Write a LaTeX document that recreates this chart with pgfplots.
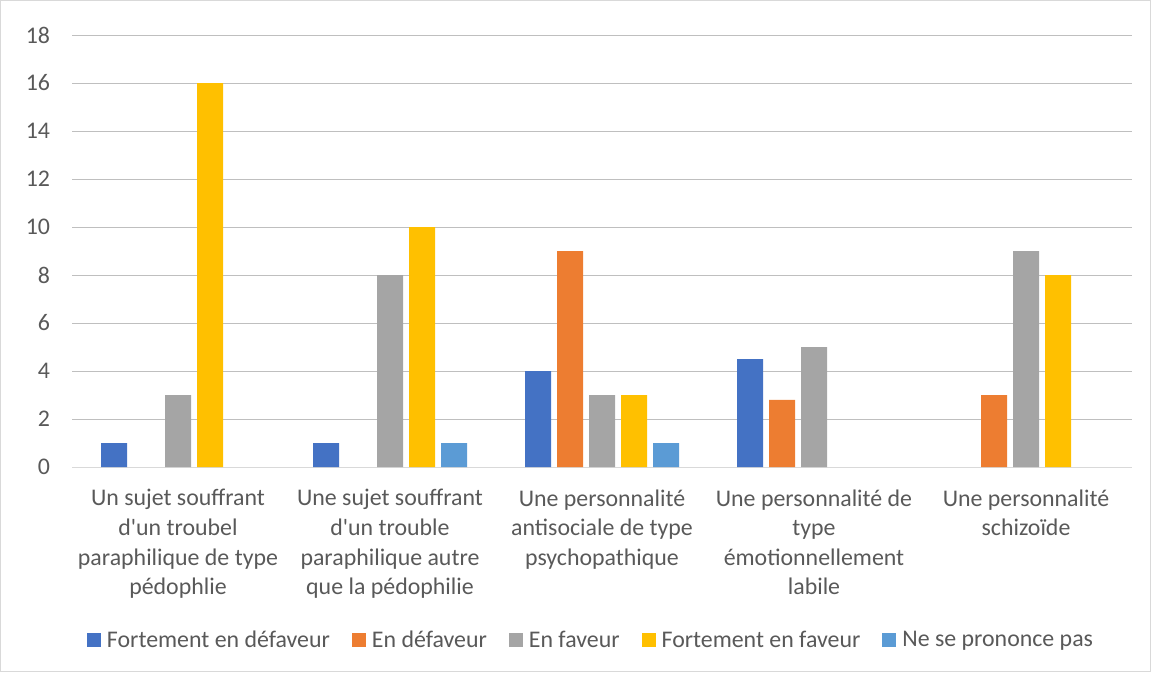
\documentclass[border=0pt]{standalone}
\usepackage{fontspec}
\setmainfont{Carlito}[Ligatures=TeXOff]
\usepackage{pgfplots}
\pgfplotsset{compat=1.18}
\definecolor{c1}{HTML}{4472C4}
\definecolor{c2}{HTML}{ED7D31}
\definecolor{c3}{HTML}{A5A5A5}
\definecolor{c4}{HTML}{FFC000}
\definecolor{c5}{HTML}{5B9BD5}
\definecolor{txt}{HTML}{595959}
\definecolor{grid}{HTML}{D9D9D9}
\begin{document}
\begin{tikzpicture}
\draw[grid, line width=0.75pt] (0.375pt,0.375pt) rectangle (862.875pt,503.625pt);
\begin{axis}[
  at={(54pt,153.75pt)}, anchor=south west,
  scale only axis, width=795pt, height=324pt,
  ybar=4.5pt, bar width=19.5pt,
  xmin=-0.5, xmax=4.5, ymin=0, ymax=18,
  ytick={0,2,...,18},
  xtick={0,1,2,3,4},
  xticklabels={
    {Un sujet souffrant\\d'un troubel\\paraphilique de type\\pédophlie},
    {Une sujet souffrant\\d'un trouble\\paraphilique autre\\que la pédophilie},
    {Une personnalité\\antisociale de type\\psychopathique},
    {Une personnalité de\\type\\émotionnellement\\labile},
    {Une personnalité\\schizoïde}},
  axis x line*=bottom, axis y line*=left,
  x axis line style={grid, line width=0.75pt, -},
  y axis line style={draw=none},
  xmajorgrids=false, ymajorgrids, grid style={grid, line width=0.75pt},
  major tick length=0pt, tick style={draw=none},
  /pgf/number format/assume math mode=true,
  tick label style={font=\fontsize{17.9}{22.2}\selectfont, text=txt},
  x tick label style={align=center, yshift=-13.3pt},
  y tick label style={xshift=-13pt},
  legend style={draw=none, at={(0.4887,-0.4005)}, anchor=center,
    font=\fontsize{17.9}{20}\selectfont, text=txt, legend columns=5,
    nodes={inner sep=0pt},
    /tikz/every odd column/.append style={column sep=4.5pt},
    /tikz/every even column/.append style={column sep=16.5pt},
    legend cell align=left},
  legend image code/.code={\fill[#1] (0pt,-5pt) rectangle (10.5pt,5pt);},
  every axis plot/.append style={draw=none},
]
\addplot[fill=c1] coordinates {(0,1) (1,1) (2,4) (3,4.5)};
\addplot[fill=c2] coordinates {(2,9) (3,2.8) (4,3)};
\addplot[fill=c3] coordinates {(0,3) (1,8) (2,3) (3,5) (4,9)};
\addplot[fill=c4] coordinates {(0,16) (1,10) (2,3) (4,8)};
\addplot[fill=c5] coordinates {(1,1) (2,1)};
\legend{Fortement en défaveur, En défaveur, En faveur, Fortement en faveur, Ne se prononce pas}
\end{axis}
\end{tikzpicture}
\end{document}
